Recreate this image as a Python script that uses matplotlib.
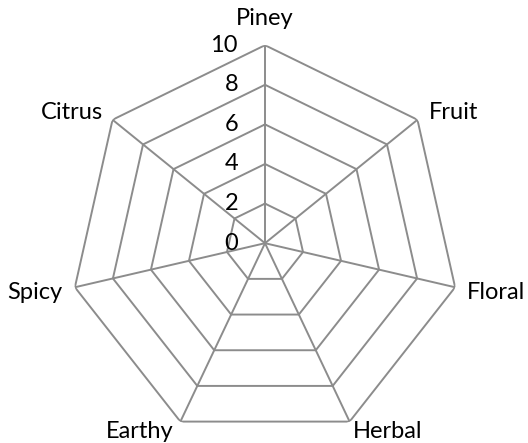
import numpy as np
import matplotlib
matplotlib.use("Agg")
import matplotlib.pyplot as plt

plt.rcParams['font.family'] = ['Lato', 'DejaVu Sans']

# chart content
categories = ['Piney', 'Fruit', 'Floral', 'Herbal', 'Earthy', 'Spicy', 'Citrus']
levels = [0, 2, 4, 6, 8, 10]
rmax = 10

# label placement (offset in px, alignment) per category
label_style = {
    'Piney': ((0, 27), 'center'),
    'Fruit': ((11, 7), 'left'),
    'Floral': ((12, -5), 'left'),
    'Herbal': ((3, -10), 'left'),
    'Earthy': ((-7, -10), 'right'),
    'Spicy': ((-13, -5), 'right'),
    'Citrus': ((-10, 7), 'right'),
}

grid_color = '#8c8c8c'
fs = 17

fig = plt.figure(figsize=(5.28, 4.43), dpi=100)
ax = fig.add_axes([70 / 528, 1.8 / 443, 390 / 528, 396 / 443], projection='polar')
ax.set_theta_offset(np.pi / 2)
ax.set_theta_direction(-1)
ax.set_aspect('auto')

n = len(categories)
theta = np.arange(n) * 2 * np.pi / n
theta_closed = np.append(theta, theta[0])

# polygon rings
for lv in levels[1:]:
    ax.plot(theta_closed, [lv] * (n + 1), color=grid_color, lw=1.4, solid_joinstyle='miter')
# spokes
for t in theta:
    ax.plot([t, t], [0, rmax], color=grid_color, lw=1.4)

ax.set_ylim(0, rmax)
ax.set_xticks([])
ax.set_yticks([])
ax.grid(False)
ax.spines['polar'].set_visible(False)
ax.patch.set_alpha(0)

# value axis labels
px = 72 / fig.dpi
for lv in levels:
    ax.annotate(str(lv), xy=(0, lv), xytext=(-27 * px, 0), textcoords='offset points',
                ha='right', va='center', fontsize=fs, color='black')

# category labels
for t, cat in zip(theta, categories):
    (dx, dy), ha = label_style[cat]
    ax.annotate(cat, xy=(t, rmax), xytext=(dx * px, dy * px), textcoords='offset points',
                ha=ha, va='center', fontsize=fs, color='black', annotation_clip=False)

fig.savefig('out.png', dpi=100)
